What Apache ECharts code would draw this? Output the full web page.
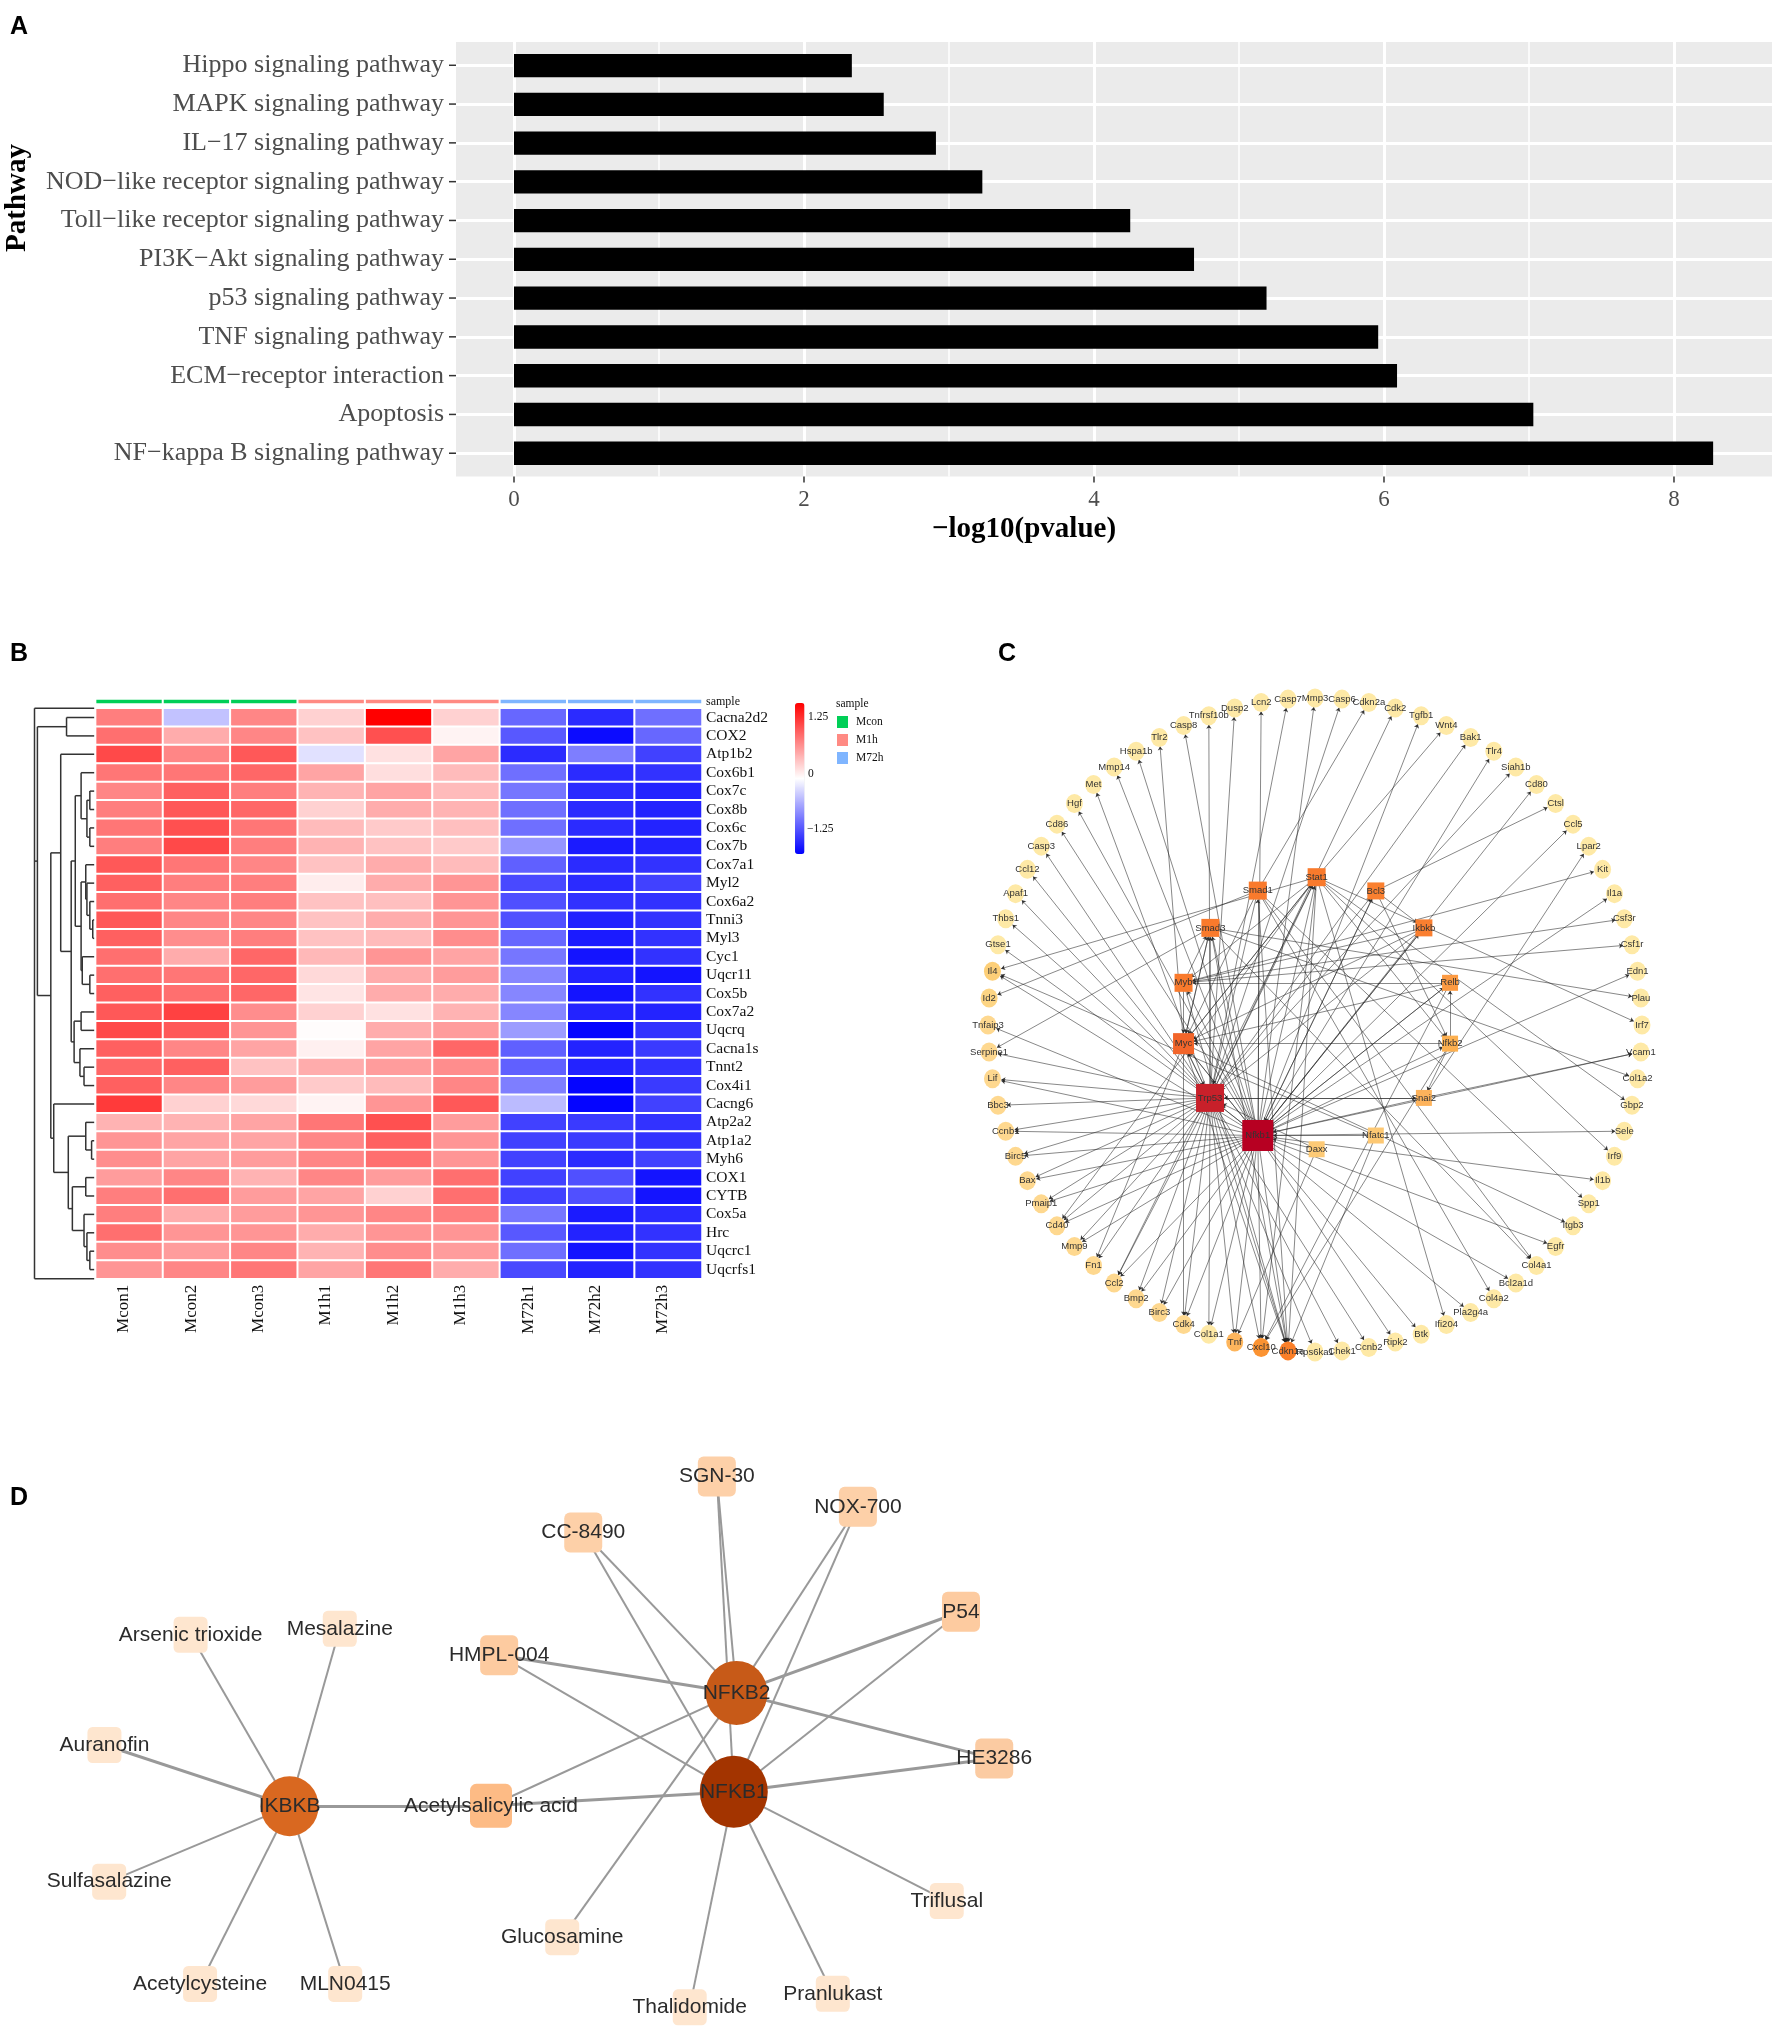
<!DOCTYPE html>
<html><head><meta charset="utf-8">
<style>html,body{margin:0;padding:0;background:#fff}#c{width:1772px;height:2030px}</style>
<script src="https://cdn.jsdelivr.net/npm/echarts@6/dist/echarts.min.js"></script>
</head><body><div id="c"></div>
<script>
/* ---------- Panel A ---------- */
const pathways = ['Hippo signaling pathway','MAPK signaling pathway','IL\u221217 signaling pathway','NOD\u2212like receptor signaling pathway','Toll\u2212like receptor signaling pathway','PI3K\u2212Akt signaling pathway','p53 signaling pathway','TNF signaling pathway','ECM\u2212receptor interaction','Apoptosis','NF\u2212kappa B signaling pathway'];
const pvalues = [2.33,2.55,2.91,3.23,4.25,4.69,5.19,5.96,6.09,7.03,8.27];
const xTicks = [0,2,4,6,8];
const xMinor = [1,3,5,7];

/* ---------- Panel B ---------- */
const genes = ['Cacna2d2','COX2','Atp1b2','Cox6b1','Cox7c','Cox8b','Cox6c','Cox7b','Cox7a1','Myl2','Cox6a2','Tnni3','Myl3','Cyc1','Uqcr11','Cox5b','Cox7a2','Uqcrq','Cacna1s','Tnnt2','Cox4i1','Cacng6','Atp2a2','Atp1a2','Myh6','COX1','CYTB','Cox5a','Hrc','Uqcrc1','Uqcrfs1'];
const samples = ['Mcon1','Mcon2','Mcon3','M1h1','M1h2','M1h3','M72h1','M72h2','M72h3'];
const zScores = [
[0.85,-0.4,0.8,0.3,1.68,0.3,-1.0,-1.4,-0.95],
[0.95,0.55,0.8,0.4,1.15,0.08,-1.1,-1.6,-1.0],
[1.2,0.8,1.1,-0.2,0.2,0.6,-1.4,-0.85,-1.25],
[0.9,0.9,1.0,0.6,0.22,0.45,-0.95,-1.4,-1.35],
[0.8,1.05,0.85,0.5,0.6,0.45,-0.9,-1.4,-1.45],
[0.85,1.1,1.0,0.3,0.55,0.5,-0.95,-1.4,-1.45],
[0.9,1.15,0.9,0.45,0.35,0.42,-0.95,-1.4,-1.45],
[0.85,1.2,0.85,0.5,0.4,0.35,-0.7,-1.5,-1.45],
[1.1,0.9,0.8,0.4,0.55,0.45,-1.05,-1.4,-1.35],
[1.05,0.85,0.85,0.12,0.55,0.7,-1.2,-1.4,-1.25],
[0.95,0.8,0.85,0.4,0.42,0.7,-1.15,-1.35,-1.35],
[1.1,0.8,0.8,0.4,0.55,0.7,-1.15,-1.45,-1.35],
[1.05,0.75,0.85,0.4,0.45,0.75,-1.0,-1.5,-1.35],
[0.95,0.55,1.0,0.47,0.7,0.6,-0.9,-1.55,-1.35],
[0.95,0.9,1.0,0.25,0.55,0.65,-0.8,-1.45,-1.55],
[1.05,0.95,1.0,0.18,0.55,0.55,-0.8,-1.55,-1.35],
[1.1,1.25,0.75,0.3,0.2,0.5,-0.8,-1.45,-1.45],
[1.2,1.1,0.7,0.02,0.55,0.65,-0.65,-1.65,-1.35],
[1.05,0.8,0.6,0.1,0.6,1.0,-1.05,-1.45,-1.3],
[1.0,1.05,0.4,0.55,0.65,0.75,-1.05,-1.45,-1.35],
[1.05,0.8,0.65,0.35,0.45,0.8,-0.85,-1.65,-1.3],
[1.3,0.3,0.25,0.08,0.7,1.1,-0.45,-1.65,-1.25],
[0.5,0.5,0.6,0.9,1.15,0.65,-1.25,-1.3,-1.35],
[0.7,0.6,0.6,0.8,1.05,0.7,-1.25,-1.3,-1.35],
[0.75,0.6,0.65,0.8,0.95,0.7,-1.25,-1.4,-1.25],
[0.65,0.8,0.5,0.8,0.65,0.95,-1.25,-1.15,-1.55],
[0.85,0.95,0.65,0.6,0.3,0.95,-1.25,-1.15,-1.55],
[0.85,0.55,0.65,0.7,0.8,0.85,-0.9,-1.5,-1.4],
[0.95,0.7,0.7,0.55,0.7,0.7,-1.1,-1.45,-1.35],
[0.75,0.65,0.8,0.5,0.75,0.65,-0.95,-1.55,-1.35],
[0.7,0.8,0.9,0.6,0.9,0.55,-1.2,-1.45,-1.35]
];
const groupNames = ['Mcon','M1h','M72h'];
const groupColors = ['#00cf57','#ff8a83','#7fb5ff'];
const colorStops = ['#0000ff','#ffffff','#ff0000'];
const dendroTree = [98,[48,'Cacna2d2','COX2'],
 [75,[58,'Atp1b2',[40,[33,[23,'Cox6b1',[13,[8,'Cox7c','Cox8b'],[8,'Cox6c','Cox7b']]],
   [23,[15,'Cox7a1',[13,'Myl2',[8,'Cox6a2',[3,'Tnni3','Myl3']]]],[21,'Cyc1',[8,'Uqcr11','Cox5b']]]],
   [35,[23,'Cox7a2','Uqcrq'],[25,'Cacna1s',[18,'Tnnt2','Cox4i1']]]]],
  [70,'Cacng6',[45,[15,'Atp2a2',[5,'Atp1a2','Myh6']],[38,[15,'COX1','CYTB'],[18,'Cox5a',[13,'Hrc',[8,'Uqcrc1','Uqcrfs1']]]]]]]];

/* ---------- Panel C ---------- */
const ringGenes = ['Mmp3','Casp6','Cdkn2a','Cdk2','Tgfb1','Wnt4','Bak1','Tlr4','Siah1b','Cd80','Ctsl','Ccl5','Lpar2','Kit','Il1a','Csf3r','Csf1r','Edn1','Plau','Irf7','Vcam1','Col1a2','Gbp2','Sele','Irf9','Il1b','Spp1','Itgb3','Egfr','Col4a1','Bcl2a1d','Col4a2','Pla2g4a','Ifi204','Btk','Ripk2','Ccnb2','Chek1','Rps6ka1','Cdkn1a','Cxcl10','Tnf','Col1a1','Cdk4','Birc3','Bmp2','Ccl2','Fn1','Mmp9','Cd40','Pmaip1','Bax','Birc5','Ccnb1','Bbc3','Lif','Serpine1','Tnfaip3','Id2','Il4','Gtse1','Thbs1','Apaf1','Ccl12','Casp3','Cd86','Hgf','Met','Mmp14','Hspa1b','Tlr2','Casp8','Tnfrsf10b','Dusp2','Lcn2','Casp7'];
const warmRing = ['Cdk4','Birc3','Bmp2','Ccl2','Fn1','Mmp9','Cd40','Pmaip1','Bax','Birc5','Ccnb1','Bbc3','Lif','Serpine1','Tnfaip3','Id2','Il4'];
const ringAccent = {Cdkn1a:'#fb7f28',Cxcl10:'#fb9332',Tnf:'#fdb55c',Il4:'#fdcf78',Id2:'#fdd584'};
const hubNames = ['Smad1','Stat1','Bcl3','Smad3','Ikbkb','Myb','Relb','Myc','Nfkb2','Trp53','Snai2','Nfkb1','Nfatc1','Daxx'];
const hubX = [-0.175,0.005,0.186,-0.320,0.333,-0.402,0.413,-0.402,0.413,-0.321,0.333,-0.175,0.186,0.005];
const hubY = [-0.411,-0.452,-0.410,-0.297,-0.297,-0.129,-0.129,0.057,0.057,0.223,0.223,0.338,0.338,0.380];
const hubSize = [18,18,17,18,17,18,16,21,16,28,16,31,16,16];
const hubColor = ['#f97a2c','#f97a2c','#fa8030','#f97a2c','#fa7f30','#f97a2c','#fc9a42','#f2652a','#fdb050','#c8202a','#fdb35c','#b70022','#fdc873','#fdca76'];
const trp53Targets = ['Casp7','Casp6','Cdk2','Bak1','Siah1b','Tnfrsf10b','Dusp2','Casp3','Apaf1','Thbs1','Gtse1','Ccl12','Met','Serpine1','Lif','Bbc3','Ccnb1','Birc5','Bax','Pmaip1','Fn1','Cdk4','Birc3','Col1a1','Ccnb2','Chek1','Rps6ka1','Cdkn1a','Cxcl10','Tnf','Mmp9','Cd40','Ccl2','Bmp2','Nfkb1','Smad3','Myc','Stat1','Bcl3','Snai2'];
const nfkb1Targets = ['Lcn2','Mmp3','Tgfb1','Tlr4','Cd80','Ccl5','Il1a','Edn1','Vcam1','Sele','Il1b','Egfr','Bcl2a1d','Pla2g4a','Btk','Ripk2','Cdkn1a','Cxcl10','Tnf','Col1a1','Cdk4','Birc3','Bmp2','Ccl2','Mmp9','Cd40','Pmaip1','Bax','Birc5','Ccnb1','Lif','Tnfaip3','Il4','Cd86','Hgf','Mmp14','Hspa1b','Casp8','Trp53','Stat1','Ikbkb','Bcl3','Myc','Smad1','Relb','Nfkb2','Myb','Smad3'];
const mycTargets = ['Cdk4','Itgb3','Fn1','Tlr2','Cdkn1a','Trp53','Nfkb1','Stat1','Smad3'];
const mybTargets = ['Kit','Csf3r','Csf1r','Myc','Cdkn1a','Smad3'];
const stat1Targets = ['Wnt4','Irf7','Gbp2','Irf9','Ifi204','Cxcl10','Cdkn1a','Il4','Ccl2','Cd40','Nfkb2','Myc','Myb'];
const smad1Targets = ['Cdkn2a','Id2','Spp1','Col4a1','Col4a2','Cdkn1a','Myc','Trp53'];
const smad3Targets = ['Plau','Col1a2','Col4a1','Serpine1','Cdkn1a','Myc'];
const bcl3Targets = ['Ctsl','Nfkb1','Nfkb2','Ikbkb'];
const ikbkbTargets = ['Nfkb1','Trp53','Myb','Myc'];
const relbTargets = ['Myb','Myc','Cxcl10','Nfkb1'];
const nfkb2Targets = ['Relb','Myc','Snai2','Cxcl10'];
const snai2Targets = ['Lpar2','Trp53','Nfkb1','Vcam1'];
const nfatc1Targets = ['Nfkb1','Il4','Cdkn1a'];
const daxxTargets = ['Tnf','Nfkb1','Trp53'];
const hubTargets = {Trp53:trp53Targets,Nfkb1:nfkb1Targets,Myc:mycTargets,Myb:mybTargets,Stat1:stat1Targets,Smad1:smad1Targets,Smad3:smad3Targets,Bcl3:bcl3Targets,Ikbkb:ikbkbTargets,Relb:relbTargets,Nfkb2:nfkb2Targets,Snai2:snai2Targets,Nfatc1:nfatc1Targets,Daxx:daxxTargets};

/* ---------- Panel D ---------- */
const drugNames = ['IKBKB','NFKB2','NFKB1','Acetylsalicylic acid','SGN-30','NOX-700','CC-8490','P54','HMPL-004','HE3286','Arsenic trioxide','Mesalazine','Auranofin','Sulfasalazine','Acetylcysteine','MLN0415','Glucosamine','Thalidomide','Pranlukast','Triflusal'];
const drugX = [427,1086,1082,724,1057,1265,860,1417,736,1466,281,501,154,161,295,509,829,1017,1228,1396];
const drugY = [970,670,932,969,97,177,245,455,570,844,516,500,808,1170,1441,1441,1317,1503,1467,1221];
const drugW = [58,62,68,42,38,38,38,38,38,38,34,34,34,34,34,34,34,34,34,34];
const drugH = [60,64,72,44,40,40,40,40,40,40,36,36,36,36,36,36,36,36,36,36];
const drugColor = ['#d96820','#c75a18','#a33400','#fdbb85','#fdd0a8','#fdd0a8','#fdd0a8','#fdcba0','#fdcba0','#fbcba2','#fee6cf','#fee6cf','#fee6cf','#fee6cf','#fee6cf','#fee6cf','#fee6cf','#fee6cf','#fee6cf','#fee6cf'];
const ikbkbDrugs = ['Arsenic trioxide','Mesalazine','Auranofin','Sulfasalazine','Acetylcysteine','MLN0415','Acetylsalicylic acid'];
const nfkb2Drugs = ['SGN-30','NOX-700','CC-8490','P54','HMPL-004','HE3286','Acetylsalicylic acid','Glucosamine'];
const nfkb1Drugs = ['SGN-30','NOX-700','CC-8490','P54','HMPL-004','HE3286','Acetylsalicylic acid','Thalidomide','Pranlukast','Triflusal'];
const strongLinks = ['IKBKB|Auranofin','IKBKB|Acetylsalicylic acid','NFKB2|P54','NFKB2|HMPL-004','NFKB2|HE3286','NFKB1|HE3286','NFKB1|Acetylsalicylic acid'];

/* ---------- build ---------- */
const SERIF = '"Liberation Serif"', SANS = '"Liberation Sans"';
const panelText = (t,x,y)=>({type:'text',left:x,top:y,style:{text:t,font:'bold 25px '+SANS,fill:'#000'}});
const softSquare = 'path://M15 0H85A15 15 0 0 1 100 15V85A15 15 0 0 1 85 100H15A15 15 0 0 1 0 85V15A15 15 0 0 1 15 0Z';

// dendrogram segments from the tree
const dendroSegs = [];
function walk(n){
  if(typeof n==='string') return {h:0,y:genes.indexOf(n)};
  const a=walk(n[1]), b=walk(n[2]);
  dendroSegs.push([n[0],a.y,n[0],b.y],[n[0],a.y,a.h,a.y],[n[0],b.y,b.h,b.y]);
  return {h:n[0],y:(a.y+b.y)/2};
}
const dRoot = walk(dendroTree);
dendroSegs.push([103,-0.5,103,30.5],[103,-0.5,0,-0.5],[103,30.5,0,30.5],[103,dRoot.y,dRoot.h,dRoot.y]);

const heatData = [];
zScores.forEach((r,i)=>r.forEach((v,j)=>heatData.push([j,i,v])));

// network C
const cNodes = ringGenes.map((g,i)=>{
  const a = i/ringGenes.length*2*Math.PI;
  const col = ringAccent[g] || (warmRing.includes(g)?'#fed88f':'#fee9a6');
  return {name:g,value:[Math.sin(a),-Math.cos(a)],symbol:'circle',symbolSize:[17,19],itemStyle:{color:col}};
}).concat(hubNames.map((g,i)=>({name:g,value:[hubX[i],hubY[i]],symbol:'rect',symbolSize:hubSize[i],itemStyle:{color:hubColor[i]}})));
const cEdges = [];
Object.keys(hubTargets).forEach(h=>hubTargets[h].forEach(t=>cEdges.push({source:h,target:t})));

// network D
const dNodes = drugNames.map((g,i)=>({name:g,value:[drugX[i],drugY[i]],symbol:i<3?'circle':softSquare,symbolSize:[drugW[i],drugH[i]],itemStyle:{color:drugColor[i]}}));
const dEdges = [];
[['IKBKB',ikbkbDrugs],['NFKB2',nfkb2Drugs],['NFKB1',nfkb1Drugs]].forEach(([h,l])=>l.forEach(t=>{
  dEdges.push({source:h,target:t,lineStyle:{width:strongLinks.includes(h+'|'+t)?3:2}});
}));

const hidden = {show:false};
const tickLine = (x1,y1,x2,y2)=>({type:'line',shape:{x1,y1,x2,y2},style:{stroke:'#333',lineWidth:1.5}});
const option = {
 backgroundColor:'#fff', animation:false,
 grid:[
  {left:456,top:42,width:1316,height:434.5,show:true,backgroundColor:'#ebebeb',borderWidth:0},
  {left:456,top:46.2,width:1316,height:426.4},
  {left:95.6,top:708.3,width:606.4,height:570.5},
  {left:95.6,top:699,width:606.4,height:5},
  {left:34.5,top:708.3,width:60,height:570.5},
  {left:988,top:698,width:654,height:654},
  {left:0,top:1440,width:1060,height:590}
 ],
 xAxis:[
  {gridIndex:0,type:'value',min:-0.4,max:8.676,...hidden},
  {gridIndex:1,type:'value',min:-0.4,max:8.676,offset:4,axisLine:{show:false},splitLine:{show:false},axisTick:{show:false},
    axisLabel:{customValues:xTicks,fontFamily:SERIF,fontSize:23,color:'#4d4d4d',margin:12}},
  {gridIndex:2,type:'category',data:samples,axisLine:{show:false},axisTick:{show:false},splitLine:{show:false},
    axisLabel:{rotate:90,fontFamily:SERIF,fontSize:17,color:'#111',margin:6,align:'right',verticalAlign:'bottom',lineHeight:11}},
  {gridIndex:3,type:'category',data:samples,...hidden},
  {gridIndex:4,type:'value',min:0,max:103,inverse:true,...hidden},
  {gridIndex:5,type:'value',min:-1,max:1,...hidden},
  {gridIndex:6,type:'value',min:0,max:1563,...hidden}
 ],
 yAxis:[
  {gridIndex:0,type:'value',min:0.4,max:11.6,...hidden},
  {gridIndex:1,type:'category',inverse:true,data:pathways,axisLine:{show:false},axisTick:{show:false},
    axisLabel:{fontFamily:SERIF,fontSize:26,color:'#4d4d4d',margin:12}},
  {gridIndex:2,type:'category',inverse:true,position:'right',data:genes,axisLine:{show:false},axisTick:{show:false},
    axisLabel:{interval:0,fontFamily:SERIF,fontSize:15.5,color:'#111',margin:4}},
  {gridIndex:3,type:'category',position:'right',data:['sample'],axisLine:{show:false},axisTick:{show:false},
    axisLabel:{fontFamily:SERIF,fontSize:12,color:'#111',margin:4}},
  {gridIndex:4,type:'value',min:-0.5,max:30.5,inverse:true,...hidden},
  {gridIndex:5,type:'value',min:-1,max:1,inverse:true,...hidden},
  {gridIndex:6,type:'value',min:0,max:1563,inverse:true,...hidden}
 ],
 legend:{left:835,top:714,orient:'vertical',itemWidth:13,itemHeight:14,itemGap:2,icon:'rect',selectedMode:false,
   data:groupNames,textStyle:{fontFamily:SERIF,fontSize:11.5,color:'#111',padding:[0,0,0,2]},padding:0},
 visualMap:{type:'continuous',seriesIndex:3,min:-1.68,max:1.68,calculable:false,left:780,top:688,itemWidth:9.5,itemHeight:151,
   text:null,showLabel:false,handleSize:0,indicatorSize:0,inRange:{color:colorStops}},
 graphic:[
  panelText('A',10,15),panelText('B',10,642),panelText('C',998,642),panelText('D',10,1486),
  {type:'text',left:808,top:711,style:{text:'1.25',font:'11.5px '+SERIF,fill:'#111'}},
  {type:'text',left:808,top:768,style:{text:'0',font:'11.5px '+SERIF,fill:'#111'}},
  {type:'text',left:807,top:823,style:{text:'\u22121.25',font:'11.5px '+SERIF,fill:'#111'}},
  {type:'text',left:836,top:698,style:{text:'sample',font:'11.5px '+SERIF,fill:'#111'}},
  {type:'text',x:1024,y:530,style:{text:'\u2212log10(pvalue)',font:'bold 29px '+SERIF,fill:'#000',align:'center',verticalAlign:'middle'}},
  {type:'text',x:18,y:198,rotation:Math.PI/2,style:{text:'Pathway',font:'bold 29px '+SERIF,fill:'#000',align:'center',verticalAlign:'middle'}}
 ],
 series:[
  {type:'line',xAxisIndex:0,yAxisIndex:0,data:[],silent:true,z:1,
   markLine:{silent:true,symbol:'none',label:{show:false},animation:false,z:1,
    data:[
     ...xTicks.map(v=>({xAxis:v,lineStyle:{color:'#fff',width:3,type:'solid'}})),
     ...xMinor.map(v=>({xAxis:v,lineStyle:{color:'#fff',width:1.5,type:'solid'}})),
     ...pathways.map((_,i)=>({yAxis:i+1,lineStyle:{color:'#fff',width:3,type:'solid'}}))
    ]}},
  {type:'bar',xAxisIndex:1,yAxisIndex:1,data:pvalues,barWidth:23.4,z:3,itemStyle:{color:'#000'},silent:true},
  {type:'custom',xAxisIndex:4,yAxisIndex:4,silent:true,data:dendroSegs,encode:{x:[0,2],y:[1,3]},clip:false,
   renderItem(p,api){
    const a=api.coord([api.value(0),api.value(1)]), b=api.coord([api.value(2),api.value(3)]);
    return {type:'line',shape:{x1:a[0],y1:a[1],x2:b[0],y2:b[1]},style:{stroke:'#333',lineWidth:1.5}};
   }},
  {type:'heatmap',xAxisIndex:2,yAxisIndex:2,data:heatData,silent:true,itemStyle:{borderColor:'#fff',borderWidth:2}},
  ...groupNames.map((n,g)=>({type:'heatmap',name:n,xAxisIndex:3,yAxisIndex:3,silent:true,
     data:[0,1,2].map(k=>[g*3+k,0,1]),itemStyle:{color:groupColors[g],borderColor:'#fff',borderWidth:2}})),
  {type:'graph',coordinateSystem:'cartesian2d',xAxisIndex:5,yAxisIndex:5,silent:true,data:cNodes,links:cEdges,z:4,
    edgeSymbol:['none','arrow'],edgeSymbolSize:[0,4],
    lineStyle:{color:'#222',width:0.6,opacity:0.9,curveness:0},
    label:{show:true,position:'inside',fontFamily:SANS,fontSize:9.5,color:'#333',formatter:'{b}'}},
  {type:'graph',coordinateSystem:'cartesian2d',xAxisIndex:6,yAxisIndex:6,silent:true,data:dNodes,links:dEdges,z:4,
    lineStyle:{color:'#999',opacity:1,curveness:0},
    label:{show:true,position:'inside',fontFamily:SANS,fontSize:21,color:'#2b2b2b',formatter:'{b}'}},
  {type:'custom',xAxisIndex:0,yAxisIndex:0,silent:true,clip:false,z:5,data:xTicks.map(v=>[v]),encode:{x:0},
   renderItem(p,api){const a=api.coord([api.value(0),0.4]);return tickLine(a[0],a[1],a[0],a[1]+6);}},
  {type:'custom',xAxisIndex:0,yAxisIndex:0,silent:true,clip:false,z:5,data:pathways.map((_,i)=>[i+1]),encode:{y:0},
   renderItem(p,api){const a=api.coord([-0.4,api.value(0)]);return tickLine(a[0]-7,a[1],a[0],a[1]);}}
 ]
};
const chart = echarts.init(document.getElementById('c'),null,{renderer:'canvas'});
chart.setOption(option);
</script></body></html>
